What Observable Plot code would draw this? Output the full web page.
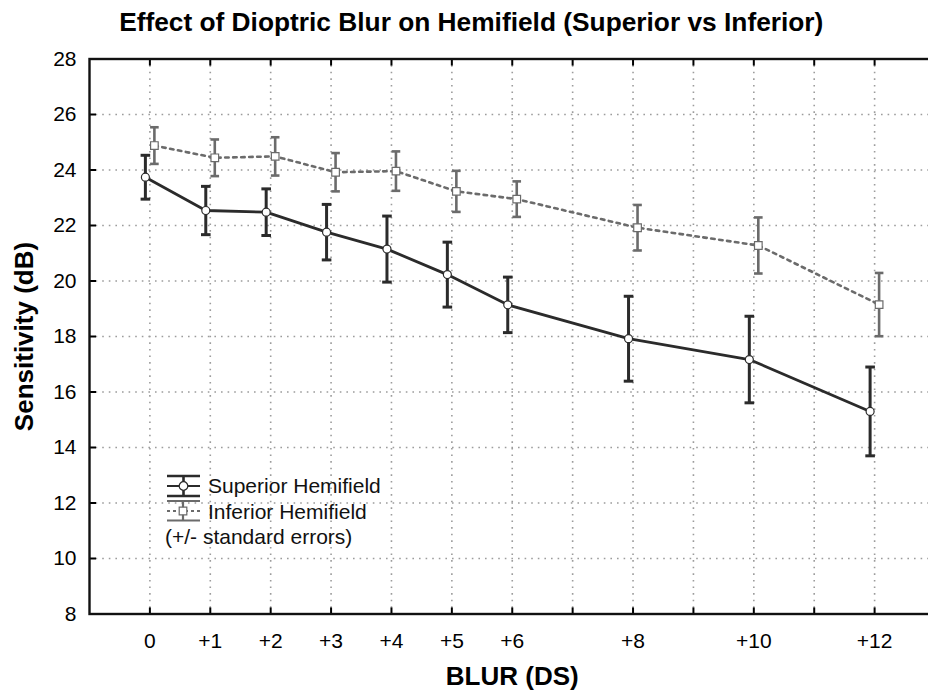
<!DOCTYPE html>
<html>
<head>
<meta charset="utf-8">
<script src="https://cdn.jsdelivr.net/npm/d3@7"></script>
<script src="https://cdn.jsdelivr.net/npm/@observablehq/plot@0.6"></script>
<style>
  html, body { margin: 0; padding: 0; background: #fff; overflow: hidden; }
  #chart { position: relative; width: 928px; height: 698px; overflow: hidden;
           font-family: "Liberation Sans", Arial, Helvetica, sans-serif; }
  #chart svg { display: block; max-width: none !important; height: auto; }
  #legend { position: absolute; left: 0; top: 0; pointer-events: none; }
</style>
</head>
<body>
<div id="chart"></div>
<script>
// Blur levels (dioptres of plus spherical lens)
const blur = [0, 1, 2, 3, 4, 5, 6, 8, 10, 12];

// Mean threshold sensitivity (dB) and standard error per hemifield
const superiorMean = [23.74, 22.54, 22.48, 21.76, 21.15, 20.23, 19.14, 17.92, 17.17, 15.30];
const superiorSE   = [0.79, 0.87, 0.84, 1.00, 1.19, 1.17, 1.00, 1.53, 1.56, 1.60];
const inferiorMean = [24.88, 24.44, 24.49, 23.92, 23.96, 23.23, 22.95, 21.92, 21.28, 19.15];
const inferiorSE   = [0.66, 0.66, 0.69, 0.69, 0.71, 0.74, 0.64, 0.82, 1.01, 1.14];

// Axis ticks
const xTicks = [0, 1, 2, 3, 4, 5, 6, 7, 8, 9, 10, 11, 12];
const xTickLabels = [0, 1, 2, 3, 4, 5, 6, 8, 10, 12];
const yTicks = [8, 10, 12, 14, 16, 18, 20, 22, 24, 26, 28];
const yTicksRight = [8, 10.5, 13, 15.5, 18, 20.5, 23, 25.5, 28];

// Text
const titleText = "Effect of Dioptric Blur on Hemifield (Superior vs Inferior)";
const xLabel = "BLUR (DS)";
const yLabel = "Sensitivity (dB)";
const seriesNames = ["Superior Hemifield", "Inferior Hemifield"];
const legendNote = "(+/- standard errors)";

const supColor = "#2b2b2b";
const infColor = "#6b6b6b";
const gridColor = "#9c9c9c";
const font = '"Liberation Sans", Arial, Helvetica, sans-serif';

const superior = blur.map((b, i) => ({blur: b, mean: superiorMean[i], se: superiorSE[i]}));
const inferior = blur.map((b, i) => ({blur: b, mean: inferiorMean[i], se: inferiorSE[i]}));

// Horizontal bar used as the error-bar cap
const capSymbol = {
  draw(context, size) {
    const w = Math.sqrt(size / Math.PI);
    context.moveTo(-w, 0);
    context.lineTo(w, 0);
  }
};

function errorMarks(data, color, shift, capR, barWidth) {
  return [
    Plot.ruleX(data, {x: "blur", y1: d => d.mean - d.se, y2: d => d.mean + d.se,
      dx: shift, stroke: color, strokeWidth: barWidth}),
    Plot.dot(data, {x: "blur", y: d => d.mean + d.se, dx: shift, symbol: capSymbol,
      r: capR, stroke: color, strokeWidth: barWidth}),
    Plot.dot(data, {x: "blur", y: d => d.mean - d.se, dx: shift, symbol: capSymbol,
      r: capR, stroke: color, strokeWidth: barWidth})
  ];
}

const W = 940, H = 698;
const chart = Plot.plot({
  width: W,
  height: H,
  marginLeft: 89,
  marginRight: W - 934.5,
  marginTop: 58.5,
  marginBottom: H - 613.5,
  style: {fontFamily: font, color: "#000", background: "#fff", maxWidth: "none"},
  x: {domain: [-1, 13]},
  y: {domain: [8, 28]},
  marks: [
    Plot.gridY(yTicks, {stroke: gridColor, strokeOpacity: 1, strokeWidth: 1.6, strokeDasharray: "1.6,5"}),
    Plot.gridX(xTicks, {stroke: gridColor, strokeOpacity: 1, strokeWidth: 1.6, strokeDasharray: "1.6,5"}),

    // Tick labels
    Plot.axisY(yTicks, {anchor: "left", tickSize: 0, tickPadding: 13, fontSize: 21, label: null}),
    Plot.axisX(xTickLabels, {anchor: "bottom", tickSize: 0, tickPadding: 19, fontSize: 21, label: null,
      tickFormat: d => d === 0 ? "0" : "+" + d}),

    // Inward tick marks on all four sides
    Plot.axisY(yTicks, {anchor: "left", tickSize: 7, insetLeft: 7, strokeWidth: 2, fill: "none", label: null}),
    Plot.axisY(yTicksRight, {anchor: "right", tickSize: 7, insetRight: 7, strokeWidth: 2, fill: "none", label: null}),
    Plot.axisX(xTicks, {anchor: "bottom", tickSize: 6, insetBottom: 6, strokeWidth: 2, fill: "none", label: null}),
    Plot.axisX(xTicks, {anchor: "top", tickSize: 6, insetTop: 6, strokeWidth: 2, fill: "none", label: null}),

    Plot.frame({stroke: "#111", strokeWidth: 2.4}),

    // Inferior hemifield (dotted grey, squares)
    ...errorMarks(inferior, infColor, 4.5, 4.3, 2.6),
    Plot.line(inferior, {x: "blur", y: "mean", dx: 4.5, stroke: infColor, strokeWidth: 2.6,
      strokeDasharray: "3.5,4.5"}),
    Plot.dot(inferior, {x: "blur", y: "mean", dx: 4.5, symbol: "square", r: 4.3,
      fill: "#fff", stroke: infColor, strokeWidth: 1.2}),

    // Superior hemifield (solid dark, circles)
    ...errorMarks(superior, supColor, -4.5, 4.8, 3),
    Plot.line(superior, {x: "blur", y: "mean", dx: -4.5, stroke: supColor, strokeWidth: 2.8}),
    Plot.dot(superior, {x: "blur", y: "mean", dx: -4.5, r: 4, fill: "#fff", stroke: supColor, strokeWidth: 1.2}),

    // Titles
    Plot.text([titleText], {frameAnchor: "top", textAnchor: "middle", lineAnchor: "middle",
      dx: -41, dy: -36.5, fontSize: 26.3, fontWeight: "bold", fill: "#000"}),
    Plot.text([xLabel], {frameAnchor: "bottom", textAnchor: "middle", lineAnchor: "middle",
      dy: 62.5, fontSize: 26, fontWeight: "bold", fill: "#000"}),
    Plot.text([yLabel], {frameAnchor: "left", textAnchor: "middle", lineAnchor: "middle",
      dx: -65.3, rotate: -90, fontSize: 26, fontWeight: "bold", fill: "#000"})
  ]
});
chart.setAttribute("width", W);
chart.setAttribute("height", H);
chart.style.width = W + "px";
chart.style.height = H + "px";
document.getElementById("chart").appendChild(chart);

// Legend: error-bar sample icons with series names
const legend = d3.select("#chart").append("svg")
  .attr("id", "legend").attr("width", 928).attr("height", 698)
  .style("font-family", font);

function legendIcon(g, color, dash, markerSymbol, cx, top, mid, bottom, x0, x1, wide) {
  g.append("line").attr("x1", x0).attr("x2", x1).attr("y1", top).attr("y2", top)
    .attr("stroke", color).attr("stroke-width", wide);
  g.append("line").attr("x1", x0).attr("x2", x1).attr("y1", bottom).attr("y2", bottom)
    .attr("stroke", color).attr("stroke-width", wide);
  g.append("line").attr("x1", cx).attr("x2", cx).attr("y1", top).attr("y2", bottom)
    .attr("stroke", color).attr("stroke-width", wide);
  g.append("line").attr("x1", x0).attr("x2", x1).attr("y1", mid).attr("y2", mid)
    .attr("stroke", color).attr("stroke-width", 2.2).attr("stroke-dasharray", dash);
  g.append("path").attr("transform", `translate(${cx},${mid})`)
    .attr("d", d3.symbol(markerSymbol, 58)())
    .attr("fill", "#fff").attr("stroke", color).attr("stroke-width", 1.2);
}

const lg = legend.append("g");
legendIcon(lg, supColor, null, d3.symbolCircle, 183.5, 476, 486, 496, 167, 200, 2.6);
legendIcon(lg, infColor, "3,3", d3.symbolSquare, 183, 501, 511, 520.5, 167, 200, 2.2);

lg.selectAll("text.series").data(seriesNames).join("text")
  .attr("class", "series")
  .attr("x", 208).attr("y", (d, i) => 486 + i * 25.5)
  .attr("dy", "0.35em").attr("font-size", 21).attr("fill", "#111").text(d => d);
lg.append("text").attr("x", 165).attr("y", 537).attr("dy", "0.35em")
  .attr("font-size", 21).attr("fill", "#111").text(legendNote);
</script>
</body>
</html>
